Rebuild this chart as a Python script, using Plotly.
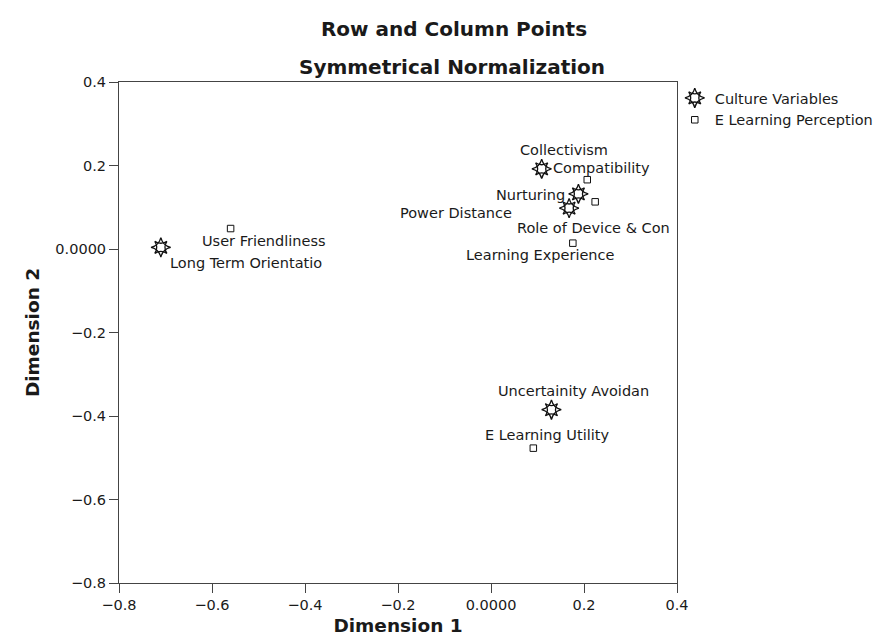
import plotly.graph_objects as go

# ---- data ----
culture_labels = ["Collectivism", "Nurturing", "Power Distance", "Long Term Orientatio", "Uncertainity Avoidan"]
culture_x = [0.109, 0.188, 0.168, -0.710, 0.130]
culture_y = [0.192, 0.132, 0.098, 0.004, -0.385]

elearn_labels = ["Compatibility", "Role of Device & Con", "Learning Experience", "User Friendliness", "E Learning Utility"]
elearn_x = [0.207, 0.224, 0.176, -0.560, 0.091]
elearn_y = [0.166, 0.113, 0.014, 0.049, -0.477]

tick_vals = [-0.8, -0.6, -0.4, -0.2, 0.0, 0.2, 0.4]
tick_text = ["\u22120.8", "\u22120.6", "\u22120.4", "\u22120.2", "0.0000", "0.2", "0.4"]

# ---- label placement (pixel offsets from the point) ----
culture_label_pos = [("center", 22, 19), ("right", -11, -1), ("right", -55, -5),
                     ("left", 7, -16), ("center", 22, 19)]
elearn_label_pos = [("left", -36, 12), ("center", -2, -26), ("center", -33, -12),
                    ("center", 33, -12), ("center", 14, 13)]

FONT = "DejaVu Sans"
TXT = "#1a1a1a"
AX = "#444444"
FS = 14.5

fig = go.Figure()

# Culture variables: sunburst approximated by two overlaid 4-point stars
fig.add_trace(go.Scatter(
    x=culture_x, y=culture_y, mode="markers", name="Culture Variables",
    legendgroup="c",
    marker=dict(symbol="star-diamond-open", size=14, color="#111111",
                line=dict(width=1.3, color="#111111")),
    hoverinfo="skip"))
fig.add_trace(go.Scatter(
    x=elearn_x, y=elearn_y, mode="markers", name="E Learning Perception",
    marker=dict(symbol="square-open", size=6.5, color="#111111",
                line=dict(width=1, color="#111111")),
    hoverinfo="skip"))
fig.add_trace(go.Scatter(
    x=culture_x, y=culture_y, mode="markers", name=" ",
    legend="legend2",
    marker=dict(symbol="star-square-open", size=11, color="#111111",
                line=dict(width=1.3, color="#111111")),
    hoverinfo="skip"))

annotations = []
for labs, xs, ys, pos in [(culture_labels, culture_x, culture_y, culture_label_pos),
                          (elearn_labels, elearn_x, elearn_y, elearn_label_pos)]:
    for lab, x, y, (anc, dx, dy) in zip(labs, xs, ys, pos):
        annotations.append(dict(x=x, y=y, xref="x", yref="y", text=lab,
                                showarrow=False, xanchor=anc, yanchor="middle",
                                xshift=dx, yshift=dy,
                                font=dict(family=FONT, size=FS, color=TXT)))

annotations.append(dict(text="<b>Symmetrical Normalization</b>", xref="paper", yref="paper",
                        x=0.597, y=1.03, xanchor="center", yanchor="middle",
                        showarrow=False, font=dict(family=FONT, size=20, color=TXT)))

legend_common = dict(x=0.996, y=1.0, xanchor="left", yanchor="top",
                     font=dict(family=FONT, size=FS, color=TXT),
                     bgcolor="rgba(0,0,0,0)", tracegroupgap=0, itemwidth=30)

fig.update_layout(
    width=882, height=636,
    margin=dict(l=111, r=210, t=74, b=61),
    paper_bgcolor="white", plot_bgcolor="white",
    title=dict(text="<b>Row and Column Points</b>", x=446 / 882, xanchor="center",
               y=1 - 21 / 636, yanchor="middle",
               font=dict(family=FONT, size=20, color=TXT)),
    font=dict(family=FONT, size=FS, color=TXT),
    showlegend=True,
    legend=legend_common,
    legend2=legend_common,
    annotations=annotations,
)

axis_common = dict(range=[-0.8, 0.4], tickvals=tick_vals, ticktext=tick_text,
                   showline=True, linecolor=AX, linewidth=1, mirror=True,
                   ticks="outside", ticklen=9, tickcolor=AX, tickwidth=1,
                   showgrid=False, zeroline=False,
                   tickfont=dict(family=FONT, size=FS, color=TXT))

fig.update_xaxes(**axis_common,
                 title=dict(text="<b>Dimension 1</b>", standoff=6,
                            font=dict(family=FONT, size=18.5, color=TXT)))
fig.update_yaxes(**axis_common,
                 title=dict(text="<b>Dimension 2</b>", standoff=10,
                            font=dict(family=FONT, size=18.5, color=TXT)))

fig.write_html("out.html")
